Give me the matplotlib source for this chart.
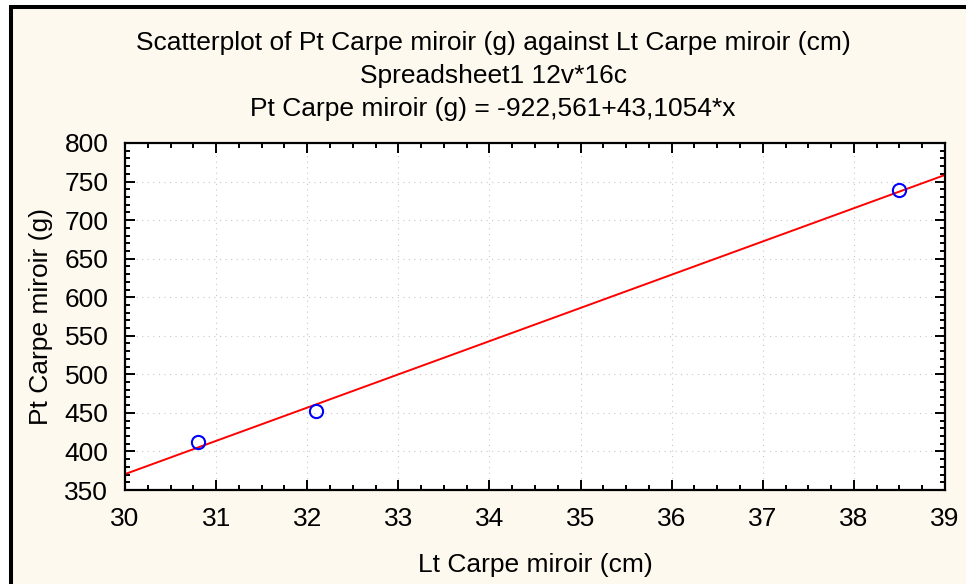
import matplotlib
matplotlib.use("Agg")
import matplotlib.pyplot as plt
from matplotlib.patches import Rectangle
from matplotlib.ticker import MultipleLocator

plt.rcParams['font.family'] = ['Liberation Sans', 'DejaVu Sans']

# data
lt_cm = [30.8, 32.1, 38.5]
pt_g = [412, 453, 739]
intercept = -922.561
slope = 43.1054
x_range = [30, 39]
y_range = [350, 800]

title_lines = [
    "Scatterplot of Pt Carpe miroir (g) against Lt Carpe miroir (cm)",
    "Spreadsheet1 12v*16c",
    "Pt Carpe miroir (g) = -922,561+43,1054*x",
]

W, H = 966, 584
fig = plt.figure(figsize=(W / 100, H / 100), dpi=100)
fig.patch.set_facecolor('white')

# cream panel with black frame on top/left (like the original window)
bg = Rectangle((11 / W, -0.2), 1.2, 1.2 - 7 / H, transform=fig.transFigure,
               facecolor='#fef9ef', edgecolor='black', linewidth=2.9, zorder=-10)
fig.patches.append(bg)

ax = fig.add_axes([125 / W, 1 - 490 / H, 820 / W, 347 / H])
ax.set_facecolor('white')

line_y = [intercept + slope * v for v in x_range]
ax.plot(x_range, line_y, color='red', linewidth=1.4, zorder=2)
ax.plot(lt_cm, pt_g, linestyle='none', marker='o', markersize=9.5,
        markerfacecolor='none', markeredgecolor='blue', markeredgewidth=1.5, zorder=3)

ax.set_xlim(x_range)
ax.set_ylim(y_range)
ax.xaxis.set_major_locator(MultipleLocator(1))
ax.xaxis.set_minor_locator(MultipleLocator(0.25))
ax.yaxis.set_major_locator(MultipleLocator(50))
ax.yaxis.set_minor_locator(MultipleLocator(10))
ax.tick_params(which='both', direction='in', top=True, right=True, width=1.4)
ax.tick_params(which='major', length=7, labelsize=19)
ax.tick_params(which='minor', length=3.5)
ax.tick_params(axis='x', pad=12)
ax.tick_params(axis='y', pad=12)
ax.grid(True, which='major', linestyle=(0, (1, 4)), color='#c8c8c8', linewidth=0.8)
for s in ax.spines.values():
    s.set_linewidth(1.6)

ax.set_xlabel("Lt Carpe miroir (cm)", fontsize=19, labelpad=16)
ax.set_ylabel("Pt Carpe miroir (g)", fontsize=19, labelpad=8)

for i, t in enumerate(title_lines):
    fig.text(493 / W, 1 - (43 + 33 * i) / H, t, ha='center', va='center', fontsize=19)

fig.savefig("out.png", dpi=100, facecolor=fig.get_facecolor())
